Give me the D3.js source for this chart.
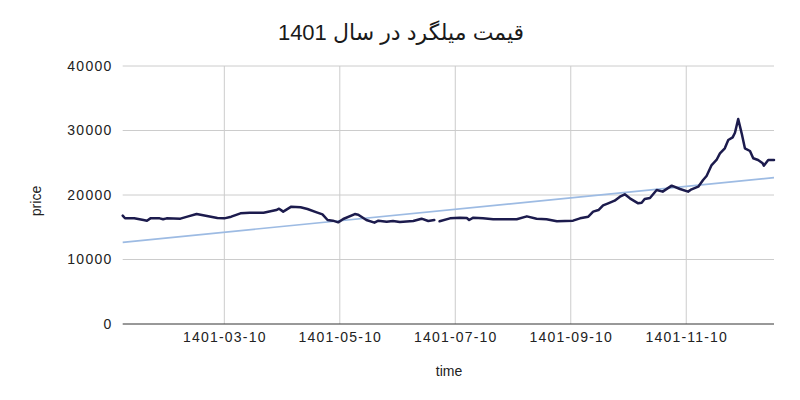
<!DOCTYPE html>
<html>
<head>
<meta charset="utf-8">
<script src="https://cdn.jsdelivr.net/npm/d3@7"></script>
<style>
  body { margin: 0; background: #fff; }
  svg { display: block; }
</style>
</head>
<body>
<svg id="chart" width="800" height="400"></svg>
<script>
// ---- data ----
const chartTitle = "قیمت میلگرد در سال 1401";
const xTitle = "time";
const yTitle = "price";

// x position as an ordinal day index in the series (0 .. 282)
const dayIndex = [0, 1, 5, 9, 10.5, 12, 16, 17.5, 19, 25, 28, 32, 36.5, 41, 44, 47, 51, 55, 61, 66.5, 67.7, 69.5,
  73, 77, 80, 84, 86.5, 88.7, 91, 93.3, 95.5, 100.5, 102, 105.5, 109, 110.7, 114.3, 117, 120, 125.8, 129.4,
  132.3, 134.9, 136, 137.2, 141.7, 146, 149, 150, 151.8, 156, 160.4, 170.6, 175, 179.2, 183.5, 188, 195, 198,
  201.6, 203.7, 206, 208, 210.2, 213, 215.3, 217.4, 219.6, 223.2, 224.7, 226, 228.3, 231.2, 233.8, 237.7,
  241.3, 244.8, 246.3, 249.2, 251.3, 252.8, 255, 257.1, 258.6, 260.7, 262.2, 264.1, 265.1, 266.5, 268, 269.4,
  271.6, 273, 275.1, 277.1, 277.6, 279.5, 282];
const price = [16800, 16400, 16400, 16120, 16020, 16380, 16380, 16230, 16380, 16330, 16640, 17050, 16740, 16430,
  16380, 16640, 17160, 17260, 17260, 17670, 17880, 17420, 18190, 18090, 17830, 17310, 17000, 16120, 16020, 15760,
  16280, 17050, 16950, 16120, 15710, 16020, 15870, 15970, 15810, 15970, 16330, 15970, 16120, null, 15920, 16380,
  16490, 16430, 16120, 16490, 16380, 16230, 16230, 16690, 16330, 16230, 15920, 16020, 16380, 16640, 17420, 17670,
  18400, 18710, 19120, 19740, 20100, 19480, 18710, 18810, 19380, 19540, 20780, 20520, 21450, 20930, 20520, 20880,
  21290, 22330, 22950, 24650, 25430, 26460, 27240, 28530, 28940, 29660, 31780, 29560, 27240, 26820, 25690, 25430,
  24910, 24550, 25430, 25430];

// linear trendline end values
const trendIndex = [0, 282];
const trendValue = [12660, 22690];

// axis ticks
const xTickIndex = [44, 94, 144, 194, 244];
const xTickLabels = ["1401-03-10", "1401-05-10", "1401-07-10", "1401-09-10", "1401-11-10"];
const yTicks = [0, 10000, 20000, 30000, 40000];

// ---- drawing ----
const svg = d3.select("#chart");
const plot = { left: 122.7, right: 774, top: 66, bottom: 324 };
const font = "Liberation Sans, Arial, sans-serif";

const x = d3.scaleLinear().domain([0, 282]).range([plot.left, plot.right]);
const y = d3.scaleLinear().domain([0, 40000]).range([plot.bottom, plot.top]);

// horizontal gridlines
svg.append("g").selectAll("line").data(yTicks.filter(d => d !== 0)).join("line")
  .attr("x1", plot.left).attr("x2", plot.right)
  .attr("y1", d => y(d)).attr("y2", d => y(d))
  .attr("stroke", "#cccccc").attr("stroke-width", 1);

// vertical gridlines
svg.append("g").selectAll("line").data(xTickIndex).join("line")
  .attr("x1", d => x(d)).attr("x2", d => x(d))
  .attr("y1", plot.top).attr("y2", plot.bottom)
  .attr("stroke", "#cccccc").attr("stroke-width", 1);

// baseline
svg.append("line")
  .attr("x1", plot.left).attr("x2", plot.right)
  .attr("y1", y(0)).attr("y2", y(0))
  .attr("stroke", "#333333").attr("stroke-width", 1);

// y axis labels
const yAxis = d3.axisLeft(y).tickValues(yTicks).tickSize(0).tickPadding(10).tickFormat(d3.format("d"));
const gy = svg.append("g").attr("transform", `translate(${plot.left},0)`).call(yAxis);
gy.select(".domain").remove();
gy.selectAll("text").attr("font-family", font)
  .attr("font-size", 14).attr("fill", "#222").style("letter-spacing", "1.3px");

// x axis labels
const xAxis = d3.axisBottom(x).tickValues(xTickIndex).tickSize(0).tickPadding(8)
  .tickFormat((d, i) => xTickLabels[i]);
const gx = svg.append("g").attr("transform", `translate(0,${plot.bottom})`).call(xAxis);
gx.select(".domain").remove();
gx.selectAll("text").attr("font-family", font)
  .attr("font-size", 14).attr("fill", "#222").style("letter-spacing", "1.2px");

// trendline
const trendData = trendIndex.map((t, i) => ({ t, v: trendValue[i] }));
svg.append("path").datum(trendData)
  .attr("fill", "none").attr("stroke", "#9dbbe3").attr("stroke-width", 1.6)
  .attr("d", d3.line().x(d => x(d.t)).y(d => y(d.v)));

// price line
const series = dayIndex.map((t, i) => ({ t, v: price[i] }));
svg.append("path").datum(series)
  .attr("fill", "none").attr("stroke", "#1c1b4d").attr("stroke-width", 2.5)
  .attr("stroke-linejoin", "round").attr("stroke-linecap", "round")
  .attr("d", d3.line().defined(d => d.v !== null).x(d => x(d.t)).y(d => y(d.v)));

// title
svg.append("text").attr("x", 401).attr("y", 40).attr("text-anchor", "middle")
  .attr("direction", "rtl")
  .attr("font-family", "Liberation Sans, Arial, DejaVu Sans, sans-serif")
  .attr("font-size", 22).attr("fill", "#1a1a1a").text(chartTitle);

// axis titles
svg.append("text").attr("x", 449).attr("y", 376).attr("text-anchor", "middle")
  .attr("font-family", font)
  .attr("font-size", 14).attr("fill", "#222").text(xTitle);

svg.append("text").attr("transform", "translate(41,201) rotate(-90)").attr("text-anchor", "middle")
  .attr("font-family", font)
  .attr("font-size", 14).attr("fill", "#222").text(yTitle);
</script>
</body>
</html>
